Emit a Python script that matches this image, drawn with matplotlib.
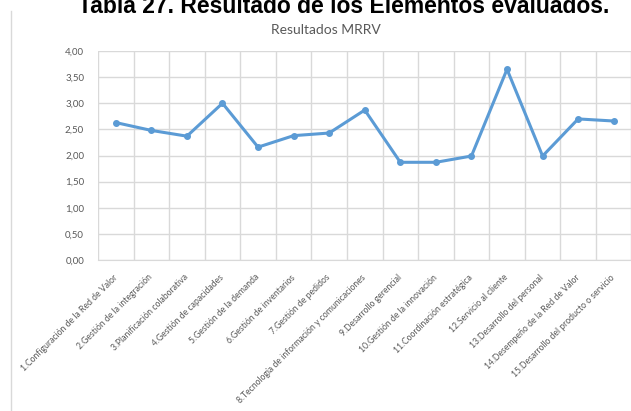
import matplotlib.pyplot as plt
import numpy as np

# Elementos evaluados del modelo MRRV y su puntaje
elementos = [
    "1.Configuración de la Red de Valor",
    "2.Gestión de la integración",
    "3.Planificación colaborativa",
    "4.Gestión de capacidades",
    "5.Gestión de la demanda",
    "6.Gestión de inventarios",
    "7.Gestión de pedidos",
    "8.Tecnología de información y comunicaciones",
    "9.Desarrollo gerencial",
    "10.Gestión de la innovación",
    "11.Coordinación estratégica",
    "12.Servicio al cliente",
    "13.Desarrollo del personal",
    "14.Desempeño de la Red de Valor",
    "15.Desarrollo del producto o servicio",
]
puntajes = [2.63, 2.48, 2.37, 3.00, 2.16, 2.38, 2.43, 2.87,
            1.87, 1.87, 1.99, 3.65, 1.99, 2.70, 2.66]
yticks = [0.0, 0.5, 1.0, 1.5, 2.0, 2.5, 3.0, 3.5, 4.0]

W, H = 631, 411
fig = plt.figure(figsize=(W / 100, H / 100), dpi=100)
ax = fig.add_axes([98 / W, 1 - 260 / H, 533.5 / W, 209 / H])

x = np.arange(len(elementos))
ax.plot(x, puntajes, color="#5B9BD5", lw=2.2, marker="o", ms=4,
        solid_joinstyle="round", zorder=3)

ax.set_xlim(-0.5, len(elementos) - 0.5)
ax.set_ylim(0, 4)
ax.set_yticks(yticks)
ax.set_yticklabels([f"{v:.2f}".replace(".", ",") for v in yticks])

# gridlines entre categorías, estilo Excel
ax.set_xticks(np.arange(len(elementos) + 1) - 0.5, minor=True)
ax.grid(True, which="minor", axis="x", color="#d9d9d9", lw=1)
ax.grid(True, which="major", axis="y", color="#d9d9d9", lw=1)
ax.set_xticks(x)
ax.set_xticklabels(elementos, rotation=45, ha="right", va="center",
                   rotation_mode="anchor", fontsize=6.2, color="#595959",
                   family="Lato")
ax.tick_params(axis="both", which="both", length=0)
ax.tick_params(axis="x", pad=11.5)
ax.tick_params(axis="y", pad=10, labelsize=7, labelcolor="#595959")
for lbl in ax.get_yticklabels():
    lbl.set_family("Lato")
for side in ["top", "right", "left"]:
    ax.spines[side].set_visible(False)
ax.spines["bottom"].set_color("#d9d9d9")

fig.text(326 / W, 1 - 30 / H, "Resultados MRRV", ha="center", va="center",
         fontsize=10, color="#595959", family="Lato")
fig.text(344 / W, 1 - 13 / H, "Tabla 27. Resultado de los Elementos evaluados.",
         ha="center", va="baseline", fontsize=16.5, fontweight="bold",
         color="black", family="Liberation Sans")

# borde izquierdo del área del gráfico
fig.add_artist(plt.Line2D([11 / W, 11 / W], [0, 1 - 11 / H],
                          color="#d9d9d9", lw=1))

fig.savefig("out.png", dpi=100)
